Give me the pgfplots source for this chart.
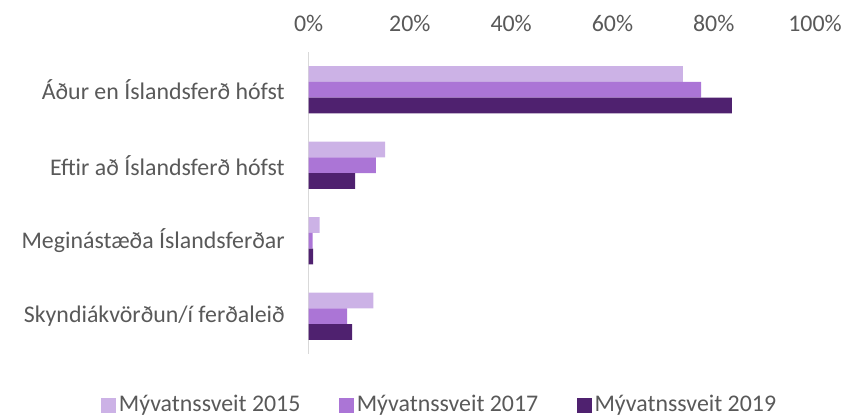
\documentclass[border=0pt]{standalone}
\usepackage{pgfplots}
\pgfplotsset{compat=1.18}
\usepackage{fontspec}
\setmainfont{Carlito}
\definecolor{c15}{RGB}{204,178,230}
\definecolor{c17}{RGB}{171,117,214}
\definecolor{c19}{RGB}{79,33,111}
\definecolor{txt}{RGB}{89,89,89}
\definecolor{axl}{RGB}{217,217,217}

\begin{document}
\fontsize{17.9}{21}\selectfont
\begin{tikzpicture}
    \useasboundingbox (-231.45pt,-46.5pt) rectangle (414.3pt,265.5pt);
    \begin{axis}[
        at={(0pt,0pt)}, anchor=south west,
        scale only axis,
        width=379.8pt, height=226.5pt,
        xbar=0pt, bar width=11.8pt,
        xmin=0, xmax=100,
        ymin=-0.5, ymax=3.5,
        y dir=reverse,
        axis y line*=left,
        axis x line*=top,
        x axis line style={draw=none},
        y axis line style={draw=axl, line width=1.2pt},
        xtick={0,20,...,100},
        xticklabel={\pgfmathprintnumber{\tick}\%},
        ytick={0,1,2,3},
        yticklabels={Áður en Íslandsferð hófst, Eftir að Íslandsferð hófst, Meginástæða Íslandsferðar, Skyndiákvörðun/í ferðaleið},
        major tick length=0pt,
        tick label style={font=\fontsize{17.9}{21}\selectfont, text=txt},
        xticklabel style={inner sep=0pt, anchor=south, yshift=15pt},
        yticklabel style={inner sep=0pt, anchor=east, xshift=-17.7pt},
        /pgf/number format/assume math mode=true,
        legend columns=3,
        legend style={at={(0.2595,-0.169)}, anchor=center, draw=none, fill=none,
            font=\fontsize{17.9}{21}\selectfont, text=txt,
            /tikz/every even column/.append style={column sep=27pt}},
        legend image code/.code={\fill[#1,draw=none] (-3pt,-5.6pt) rectangle (8.25pt,5.6pt);},
    ]
    % 2015
    \addplot[fill=c15, draw=none, bar shift=11.8pt] coordinates {(73.9,0) (15.1,1) (2.2,2) (12.8,3)};
    \addlegendentry{Mývatnssveit 2015}
    % 2017
    \addplot[fill=c17, draw=none, bar shift=0pt] coordinates {(77.5,0) (13.3,1) (0.8,2) (7.6,3)};
    \addlegendentry{Mývatnssveit 2017}
    % 2019
    \addplot[fill=c19, draw=none, bar shift=-11.8pt] coordinates {(83.6,0) (9.2,1) (0.9,2) (8.6,3)};
    \addlegendentry{Mývatnssveit 2019}
    \end{axis}
\end{tikzpicture}
\end{document}
